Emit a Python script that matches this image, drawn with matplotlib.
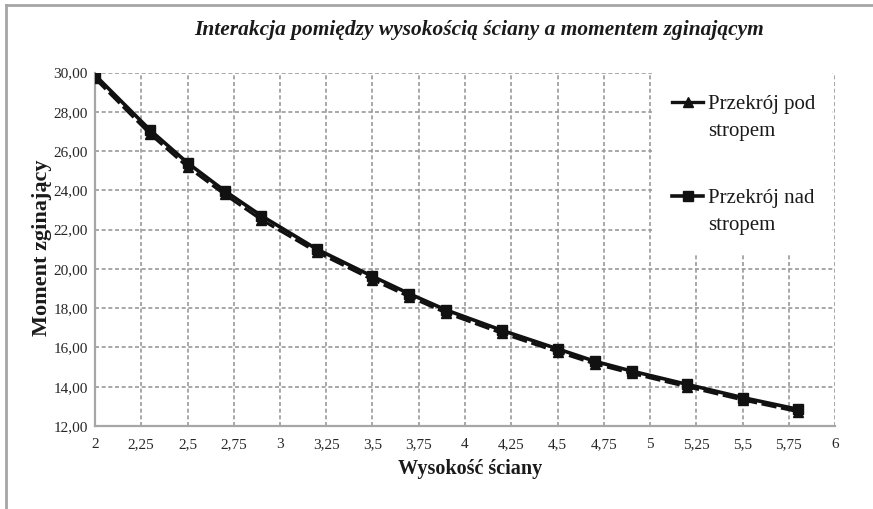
import numpy as np
import matplotlib
matplotlib.use("Agg")
import matplotlib.pyplot as plt
from matplotlib.legend_handler import HandlerLine2D
from matplotlib.patches import Rectangle
from matplotlib.lines import Line2D

# ---- data ----
wysokosc = [2.0, 2.3, 2.5, 2.7, 2.9, 3.2, 3.5, 3.7, 3.9, 4.2, 4.5, 4.7, 4.9, 5.2, 5.5, 5.8]
pod_stropem = [29.70, 26.85, 25.20, 23.80, 22.50, 20.85, 19.45, 18.58, 17.75, 16.72,
               15.78, 15.17, 14.68, 14.00, 13.33, 12.73]
nad_stropem = [29.87, 27.05, 25.40, 23.98, 22.70, 21.00, 19.62, 18.73, 17.90, 16.87,
               15.93, 15.30, 14.80, 14.12, 13.45, 12.85]
x_ticks = [2, 2.25, 2.5, 2.75, 3, 3.25, 3.5, 3.75, 4, 4.25, 4.5, 4.75, 5, 5.25, 5.5, 5.75, 6]
x_tick_labels = ["2", "2,25", "2,5", "2,75", "3", "3,25", "3,5", "3,75", "4", "4,25",
                 "4,5", "4,75", "5", "5,25", "5,5", "5,75", "6"]
y_ticks = [12, 14, 16, 18, 20, 22, 24, 26, 28, 30]
y_tick_labels = ["12,00", "14,00", "16,00", "18,00", "20,00", "22,00", "24,00",
                 "26,00", "28,00", "30,00"]
series_labels = ["Przekrój pod\nstropem", "Przekrój nad\nstropem"]
title = "Interakcja pomiędzy wysokością ściany a momentem zginającym"
x_label = "Wysokość ściany"
y_label = "Moment zginający"

plt.rcParams['font.family'] = ['Liberation Serif', 'DejaVu Serif']

W, H = 873, 509
fig = plt.figure(figsize=(W / 100, H / 100), dpi=100)
fig.patch.set_facecolor("white")

L, R, T, B = 95, 835, 72.5, 426
ax = fig.add_axes([L / W, 1 - B / H, (R - L) / W, (B - T) / H])

grid_kw = dict(color="#9a9a9a", linewidth=1.2, linestyle=(0, (2.4, 1.6)))
ax.set_xlim(2, 6)
ax.set_ylim(12, 30)
ax.set_xticks(x_ticks)
ax.set_xticklabels(x_tick_labels)
ax.set_yticks(y_ticks)
ax.set_yticklabels(y_tick_labels)
ax.grid(True, **grid_kw)
ax.set_axisbelow(True)
for s in ["top", "right"]:
    ax.spines[s].set_visible(False)
for s in ["left", "bottom"]:
    ax.spines[s].set_color("#a6a6a6")
    ax.spines[s].set_linewidth(1.6)
    ax.spines[s].set_zorder(3)
ax.tick_params(axis="both", length=0, labelsize=11, colors="#262626")
ax.tick_params(axis="x", pad=9)
ax.tick_params(axis="y", pad=5)

ax.plot(wysokosc, pod_stropem, color="#111111", linewidth=2.2,
        linestyle=(0, (5, 1.5)), marker="^", markersize=7.5, zorder=4,
        label=series_labels[0])
ax.plot(wysokosc, nad_stropem, color="#111111", linewidth=2.6,
        marker="s", markersize=7.5, zorder=5, label=series_labels[1])

# white legend background area
fig.patches.append(Rectangle((652 / W, 1 - 253 / H), (832 - 652) / W, (253 - 70) / H,
                             transform=fig.transFigure, facecolor="white",
                             edgecolor="none", zorder=1))


class ShiftedHandler(HandlerLine2D):
    def create_artists(self, legend, orig_handle, xdescent, ydescent, width, height,
                       fontsize, trans):
        arts = super().create_artists(legend, orig_handle, xdescent, ydescent, width,
                                      height, fontsize, trans)
        for a in arts:
            a.set_ydata(np.asarray(a.get_ydata(), dtype=float) + 11.0)
        return arts


h1 = Line2D([], [], color="#111111", linewidth=2.4, marker="^", markersize=7)
h2 = Line2D([], [], color="#111111", linewidth=2.6, marker="s", markersize=7)
leg = fig.legend([h1, h2], series_labels, loc="upper left",
                 bbox_to_anchor=(672 / W, 1 - 95 / H), frameon=False,
                 fontsize=15, handlelength=1.5, handletextpad=0.25,
                 labelspacing=2.3, borderaxespad=0, borderpad=0,
                 handler_map={Line2D: ShiftedHandler(numpoints=1)})
for t in leg.get_texts():
    t.set_color("#1a1a1a")
    t.set_linespacing(1.57)

fig.text(479 / W, 1 - 30 / H, title, ha="center", va="center", fontsize=15.4,
         fontweight="bold", fontstyle="italic", color="#1a1a1a")
fig.text(470 / W, 1 - 469 / H, x_label, ha="center", va="center", fontsize=14.5,
         fontweight="bold", color="#1a1a1a")
fig.text(42 / W, 1 - 248 / H, y_label, ha="center", va="center", fontsize=16,
         fontweight="bold", rotation=90, color="#1a1a1a")

# outer frame lines (top and left)
fig.add_artist(Line2D([6 / W, 6 / W], [0, 1 - 5 / H], transform=fig.transFigure,
                      color="#a6a6a6", linewidth=2))
fig.add_artist(Line2D([6 / W, 1], [1 - 5 / H, 1 - 5 / H], transform=fig.transFigure,
                      color="#a6a6a6", linewidth=2))

fig.savefig("out.png", dpi=100, facecolor="white")
